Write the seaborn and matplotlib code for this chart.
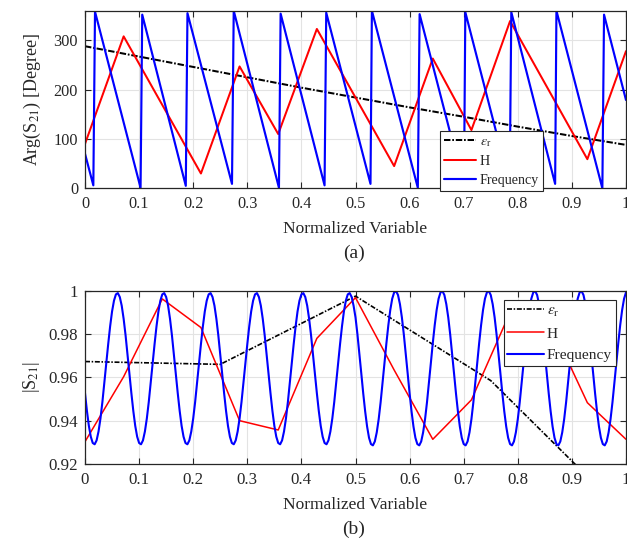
import numpy as np
import pandas as pd
import matplotlib
matplotlib.use("Agg")
import matplotlib.pyplot as plt
import seaborn as sns

# ------------------------- data -------------------------
# (a) phase of S21 [degree]
eps_phase_x = [0.0, 0.1, 0.2, 0.3, 0.4, 0.5, 0.6, 0.7, 0.8, 0.9, 1.0]
eps_phase_deg = [288, 267, 246, 225, 204, 184, 164, 145, 125, 106, 88]

h_x = [0/14, 1/14, 2/14, 3/14, 4/14, 5/14, 6/14, 7/14, 8/14, 9/14, 10/14, 11/14, 12/14, 13/14, 14/14]
h_phase_deg = [90, 308, 169, 30, 247, 110, 323, 184, 45, 263, 118, 339, 199, 59, 278]

freq_phase_x = [0.0, 0.0154, 0.0185, 0.1027, 0.1058, 0.1863, 0.1894, 0.2717, 0.2749,
                0.3585, 0.3616, 0.4428, 0.4459, 0.5277, 0.5303, 0.6152, 0.6185,
                0.7005, 0.7030, 0.7850, 0.7880, 0.8690, 0.8714, 0.9563, 0.9594, 1.0]
freq_phase_deg = [70, 6, 358, 1, 352, 5, 355, 9, 360, 1, 354, 6, 356, 9, 360, 1, 353,
                  4, 357, 8, 357, 9, 360, 0, 352, 179]

# (b) magnitude of S21
eps_mag_x = [0.0, 0.25, 0.5, 0.75, 1.0]
eps_mag = [0.9673, 0.9660, 0.9975, 0.9585, 0.8966]

h_mag = [0.9303, 0.9603, 0.9962, 0.9830, 0.9400, 0.9357, 0.9780, 0.9968,
         0.9634, 0.9314, 0.9496, 0.9900, 0.9865, 0.9483, 0.9314]

freq_mag_x = np.linspace(0.0, 1.0, 281)
freq_mag = [
    0.9527, 0.9445, 0.9376, 0.9326, 0.9297, 0.9291, 0.9309, 0.9350, 0.9410, 0.9486, 0.9573, 0.9664,
    0.9753, 0.9835, 0.9904, 0.9954, 0.9983, 0.9989, 0.9971, 0.9931, 0.9870, 0.9794, 0.9707, 0.9616,
    0.9527, 0.9445, 0.9376, 0.9326, 0.9297, 0.9291, 0.9309, 0.9350, 0.9410, 0.9486, 0.9573, 0.9664,
    0.9753, 0.9835, 0.9904, 0.9954, 0.9983, 0.9989, 0.9971, 0.9931, 0.9870, 0.9794, 0.9707, 0.9616,
    0.9527, 0.9445, 0.9376, 0.9326, 0.9297, 0.9291, 0.9309, 0.9350, 0.9410, 0.9486, 0.9573, 0.9664,
    0.9753, 0.9835, 0.9904, 0.9954, 0.9983, 0.9989, 0.9971, 0.9931, 0.9870, 0.9794, 0.9707, 0.9616,
    0.9527, 0.9445, 0.9376, 0.9326, 0.9297, 0.9291, 0.9309, 0.9350, 0.9410, 0.9486, 0.9573, 0.9664,
    0.9753, 0.9835, 0.9904, 0.9954, 0.9983, 0.9989, 0.9971, 0.9931, 0.9870, 0.9794, 0.9707, 0.9616,
    0.9527, 0.9445, 0.9376, 0.9326, 0.9297, 0.9291, 0.9309, 0.9350, 0.9410, 0.9486, 0.9573, 0.9664,
    0.9753, 0.9835, 0.9904, 0.9954, 0.9983, 0.9989, 0.9971, 0.9931, 0.9870, 0.9794, 0.9707, 0.9616,
    0.9527, 0.9445, 0.9376, 0.9326, 0.9297, 0.9291, 0.9309, 0.9350, 0.9410, 0.9486, 0.9573, 0.9664,
    0.9753, 0.9835, 0.9904, 0.9954, 0.9983, 0.9989, 0.9971, 0.9931, 0.9877, 0.9799, 0.9711, 0.9618,
    0.9526, 0.9443, 0.9373, 0.9321, 0.9292, 0.9286, 0.9304, 0.9346, 0.9407, 0.9485, 0.9573, 0.9666,
    0.9758, 0.9841, 0.9911, 0.9963, 0.9992, 0.9998, 0.9980, 0.9938, 0.9877, 0.9799, 0.9711, 0.9618,
    0.9526, 0.9443, 0.9373, 0.9321, 0.9292, 0.9286, 0.9304, 0.9346, 0.9407, 0.9485, 0.9573, 0.9666,
    0.9758, 0.9841, 0.9911, 0.9963, 0.9992, 0.9998, 0.9980, 0.9938, 0.9877, 0.9799, 0.9711, 0.9618,
    0.9526, 0.9443, 0.9373, 0.9321, 0.9292, 0.9286, 0.9304, 0.9346, 0.9407, 0.9485, 0.9573, 0.9666,
    0.9758, 0.9841, 0.9911, 0.9963, 0.9992, 0.9998, 0.9980, 0.9938, 0.9877, 0.9799, 0.9711, 0.9618,
    0.9526, 0.9443, 0.9373, 0.9321, 0.9292, 0.9286, 0.9304, 0.9346, 0.9407, 0.9485, 0.9573, 0.9666,
    0.9758, 0.9841, 0.9911, 0.9963, 0.9992, 0.9998, 0.9980, 0.9938, 0.9877, 0.9799, 0.9711, 0.9618,
    0.9526, 0.9443, 0.9373, 0.9321, 0.9292, 0.9286, 0.9304, 0.9346, 0.9407, 0.9485, 0.9573, 0.9666,
    0.9758, 0.9841, 0.9911, 0.9963, 0.9992, 0.9998, 0.9980, 0.9938, 0.9877, 0.9799, 0.9711, 0.9618,
    0.9526, 0.9443, 0.9373, 0.9321, 0.9292, 0.9286, 0.9304, 0.9346, 0.9407, 0.9485, 0.9573, 0.9666,
    0.9758, 0.9841, 0.9911, 0.9963, 0.9992,
]

series_labels = [r"$\epsilon_{\mathrm{r}}$", "H", "Frequency"]
x_ticks = [0, 0.1, 0.2, 0.3, 0.4, 0.5, 0.6, 0.7, 0.8, 0.9, 1]
x_tick_labels = ["0", "0.1", "0.2", "0.3", "0.4", "0.5", "0.6", "0.7", "0.8", "0.9", "1"]
phase_ticks = [0, 100, 200, 300]
mag_ticks = [0.92, 0.94, 0.96, 0.98, 1.0]
mag_tick_labels = ["0.92", "0.94", "0.96", "0.98", "1"]

# ------------------------- style -------------------------
sns.set_style("ticks")
plt.rcParams["font.family"] = ["Liberation Serif", "DejaVu Serif"]
plt.rcParams["mathtext.fontset"] = "stix"
plt.rcParams["axes.edgecolor"] = "#262626"
plt.rcParams["axes.linewidth"] = 0.8

W, H = 627, 549
fig = plt.figure(figsize=(W / 100, H / 100), dpi=100)


def px_axes(left, top, right, bottom):
    return fig.add_axes([left / W, 1 - bottom / H, (right - left) / W, (bottom - top) / H])


ax1 = px_axes(85, 10.7, 626, 188.3)
ax2 = px_axes(85, 290.7, 626, 464)

grey = "#262626"


def style_axes(ax, tick_size):
    ax.set_xlim(0, 1)
    ax.set_xticks(x_ticks)
    ax.set_xticklabels(x_tick_labels)
    ax.grid(True, color="#e3e3e3", lw=0.8)
    ax.set_axisbelow(True)
    for s in ax.spines.values():
        s.set_visible(True)
        s.set_color(grey)
        s.set_linewidth(0.9)
    ax.tick_params(direction="in", top=True, right=True, length=4, width=0.8,
                   colors=grey, labelsize=tick_size, labelcolor="#262626")
    ax.tick_params(axis="x", pad=5.5)
    ax.tick_params(axis="y", pad=5)


# ------------------------- panel (a) -------------------------
sns.lineplot(x=eps_phase_x, y=eps_phase_deg, ax=ax1, color="black", lw=1.45,
             label=series_labels[0], estimator=None, sort=False)
ax1.lines[-1].set_dashes([3.2, 0.9, 0.85, 0.9])
sns.lineplot(x=h_x, y=h_phase_deg, ax=ax1, color="#ff0000", lw=1.45,
             label=series_labels[1], estimator=None, sort=False)
sns.lineplot(x=freq_phase_x, y=freq_phase_deg, ax=ax1, color="#0000ff", lw=1.55,
             label=series_labels[2], estimator=None, sort=False)
style_axes(ax1, 11.7)
ax1.set_ylim(0, 360)
ax1.set_yticks(phase_ticks)
ax1.set_xlabel("Normalized Variable", fontsize=12.5)
ax1.set_ylabel(r"Arg(S$_{21}$) [Degree]", fontsize=13)
ax1.xaxis.label.set_verticalalignment("center")
ax1.yaxis.label.set_verticalalignment("center")
ax1.xaxis.set_label_coords(0.5, (188.3 - 229) / 177.6)
ax1.yaxis.set_label_coords((32 - 85) / 541, 0.5)
leg1 = ax1.legend(loc="lower left", bbox_to_anchor=((440 - 85) / 541, (188.3 - 190.7) / 177.6),
                  borderaxespad=0, fontsize=10.1, frameon=True, fancybox=False,
                  edgecolor="#262626", framealpha=1, handlelength=2.35,
                  handletextpad=0.25, borderpad=0.25, labelspacing=0.45)
leg1.get_frame().set_linewidth(0.8)

# ------------------------- panel (b) -------------------------
sns.lineplot(x=eps_mag_x, y=eps_mag, ax=ax2, color="black", lw=1.2,
             label=series_labels[0], estimator=None, sort=False)
ax2.lines[-1].set_dashes([3.0, 1.0, 0.9, 1.0])
sns.lineplot(x=h_x, y=h_mag, ax=ax2, color="#ff0000", lw=1.1,
             label=series_labels[1], estimator=None, sort=False)
sns.lineplot(x=freq_mag_x, y=freq_mag, ax=ax2, color="#0000ff", lw=1.5,
             label=series_labels[2], estimator=None, sort=False)
style_axes(ax2, 12.2)
ax2.set_ylim(0.92, 1.0)
ax2.set_yticks(mag_ticks)
ax2.set_yticklabels(mag_tick_labels)
ax2.set_xlabel("Normalized Variable", fontsize=12.5)
ax2.set_ylabel(r"|S$_{21}$|", fontsize=13)
ax2.xaxis.label.set_verticalalignment("center")
ax2.yaxis.label.set_verticalalignment("center")
ax2.xaxis.set_label_coords(0.5, (464 - 505) / 173.3)
ax2.yaxis.set_label_coords((31 - 85) / 541, 0.5)
leg2 = ax2.legend(loc="upper right", bbox_to_anchor=((616 - 85) / 541, (464 - 300) / 173.3),
                  borderaxespad=0, fontsize=11.1, frameon=True, fancybox=False,
                  edgecolor="#262626", framealpha=1, handlelength=2.35,
                  handletextpad=0.22, borderpad=0.25, labelspacing=0.52)
leg2.get_frame().set_linewidth(0.8)

fig.text(354 / W, 1 - 253 / H, "(a)", ha="center", va="center", fontsize=14, color="#262626")
fig.text(354 / W, 1 - 529 / H, "(b)", ha="center", va="center", fontsize=14, color="#262626")

fig.savefig("out.png", dpi=100)
